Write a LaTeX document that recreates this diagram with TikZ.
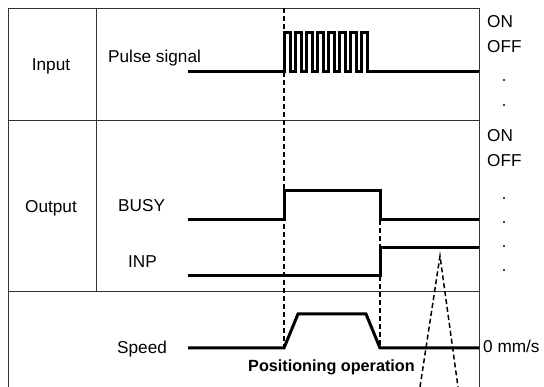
\documentclass[tikz,border=0pt]{standalone}
\usepackage{fontspec}
\setmainfont{Liberation Sans}
\usetikzlibrary{positioning}

\begin{document}
\begin{tikzpicture}[x=1pt, y=-1pt,
  every node/.style={font=\fontsize{17.2}{19}\selectfont, inner sep=0pt},
  frame/.style={draw=black!80, line width=0.9pt},
  signal/.style={line width=3pt},
  guide/.style={line width=1.5pt, dash pattern=on 5pt off 3pt}]
  \useasboundingbox (0,0) rectangle (544,387);
  % table
  \draw[frame] (8,387) -- (8,8) -- (479,8) -- (479,387);
  \draw[frame] (8,120) -- (479,120);
  \draw[frame] (8,291) -- (479,291);
  \draw[frame] (96,8) -- (96,291);
  % row labels
  \node[anchor=base] (input) at (51,71) {Input};
  \node[anchor=base] (output) at (51,213) {Output};
  \node[anchor=base west] (pulse) at (108,63) {Pulse signal};
  \node[anchor=base west] (busy) at (118,212) {BUSY};
  \node[anchor=base west] (inp) at (128,268) {INP};
  \node[anchor=base west] (speed) at (117,354) {Speed};
  \node[anchor=base west, font=\fontsize{16.2}{18}\selectfont\bfseries] (posop) at (248,372) {Positioning operation};
  % levels
  \node[anchor=west] (on1) at (487,22) {ON};
  \node[anchor=west] (off1) at (487,47) {OFF};
  \node[anchor=west] (on2) at (487,136) {ON};
  \node[anchor=west] (off2) at (487,161) {OFF};
  \node[anchor=base west] (zero) at (483,353) {0 mm/s};
  \foreach \y in {80,105,198,222,246,270}
    \fill (504,\y) circle (1.2pt);
  % timing guides
  \draw[guide] (284,8) -- (284,348);
  \draw[guide] (380,220) -- (380,348);
  \draw[guide] (420,387) -- (440,256) -- (458,387);
  % signals
  \draw[signal] (188,72) -- (284,72)
    \foreach \i in {0,...,7} { -- ++(0,-39) -- ++(6,0) -- ++(0,39) -- ++(5,0) }
    -- (479,72);
  \draw[signal] (188,220) -- (284,220) -- (284,191) -- (380,191) -- (380,220) -- (479,220);
  \draw[signal] (188,276) -- (380,276) -- (380,248) -- (479,248);
  \draw[signal] (188,348) -- (284,348) -- (298,314) -- (366,314) -- (380,348) -- (479,348);
\end{tikzpicture}
\end{document}
